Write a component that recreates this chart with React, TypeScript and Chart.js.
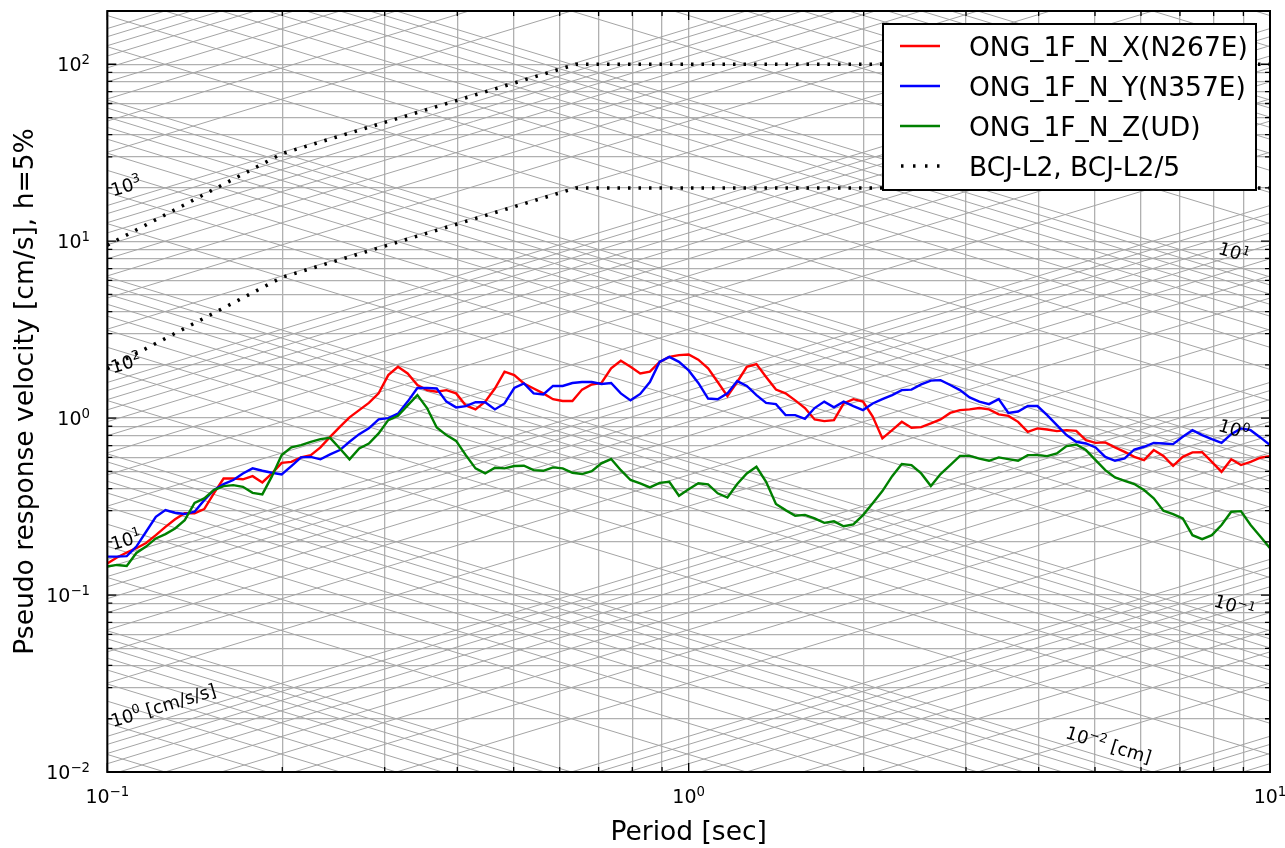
import React, { useEffect, useRef } from "react";
import { Chart, registerables } from "chart.js";

Chart.register(...registerables);

// natural period [sec]
const periods = [
  0.1, 0.1039, 0.108, 0.1122, 0.1166, 0.1212, 0.1259, 0.1308, 0.1359, 0.1413,
  0.1468, 0.1525, 0.1585, 0.1647, 0.1711, 0.1778, 0.1848, 0.192, 0.1995, 0.2073,
  0.2154, 0.2239, 0.2326, 0.2417, 0.2512, 0.261, 0.2712, 0.2818, 0.2929, 0.3043,
  0.3162, 0.3286, 0.3415, 0.3548, 0.3687, 0.3831, 0.3981, 0.4137, 0.4299, 0.4467,
  0.4642, 0.4823, 0.5012, 0.5208, 0.5412, 0.5623, 0.5843, 0.6072, 0.631, 0.6556,
  0.6813, 0.7079, 0.7356, 0.7644, 0.7943, 0.8254, 0.8577, 0.8913, 0.9261, 0.9624,
  1.0, 1.039, 1.08, 1.122, 1.166, 1.212, 1.259, 1.308, 1.359, 1.413,
  1.468, 1.525, 1.585, 1.647, 1.711, 1.778, 1.848, 1.92, 1.995, 2.073,
  2.154, 2.239, 2.326, 2.417, 2.512, 2.61, 2.712, 2.818, 2.929, 3.043,
  3.162, 3.286, 3.415, 3.548, 3.687, 3.831, 3.981, 4.137, 4.299, 4.467,
  4.642, 4.823, 5.012, 5.208, 5.412, 5.623, 5.843, 6.072, 6.31, 6.556,
  6.813, 7.079, 7.356, 7.644, 7.943, 8.254, 8.577, 8.913, 9.261, 9.624,
  10.0,
];

// pseudo response velocity [cm/s], h=5%
const psvX = [
  0.151, 0.163, 0.174, 0.184, 0.197, 0.218, 0.243, 0.268, 0.29, 0.29,
  0.306, 0.376, 0.456, 0.456, 0.451, 0.47, 0.433, 0.487, 0.559, 0.566,
  0.6, 0.618, 0.683, 0.784, 0.893, 1.01, 1.11, 1.22, 1.38, 1.75,
  1.95, 1.79, 1.54, 1.44, 1.41, 1.44, 1.38, 1.18, 1.12, 1.24,
  1.47, 1.83, 1.75, 1.57, 1.47, 1.38, 1.28, 1.25, 1.25, 1.45,
  1.55, 1.58, 1.91, 2.11, 1.95, 1.79, 1.83, 2.08, 2.22, 2.27,
  2.29, 2.14, 1.91, 1.6, 1.33, 1.6, 1.95, 2.02, 1.71, 1.45,
  1.38, 1.26, 1.14, 0.983, 0.962, 0.974, 1.21, 1.28, 1.24, 1.02,
  0.768, 0.855, 0.953, 0.882, 0.889, 0.933, 0.983, 1.07, 1.11, 1.12,
  1.14, 1.12, 1.05, 1.03, 0.953, 0.837, 0.875, 0.863, 0.845, 0.855,
  0.848, 0.751, 0.725, 0.729, 0.683, 0.645, 0.604, 0.579, 0.66, 0.612,
  0.538, 0.604, 0.64, 0.642, 0.566, 0.497, 0.585, 0.543, 0.566, 0.597,
  0.61,
];

const psvY = [
  0.165, 0.165, 0.166, 0.188, 0.228, 0.277, 0.302, 0.292, 0.287, 0.296,
  0.344, 0.392, 0.424, 0.447, 0.487, 0.52, 0.504, 0.491, 0.481, 0.536,
  0.6, 0.604, 0.585, 0.624, 0.66, 0.735, 0.812, 0.875, 0.985, 1.0,
  1.06, 1.24, 1.48, 1.48, 1.47, 1.24, 1.15, 1.17, 1.23, 1.23,
  1.12, 1.21, 1.48, 1.57, 1.38, 1.36, 1.52, 1.52, 1.58, 1.6,
  1.6, 1.56, 1.58, 1.38, 1.26, 1.37, 1.6, 2.08, 2.22, 2.08,
  1.86, 1.58, 1.29, 1.28, 1.38, 1.62, 1.52, 1.35, 1.22, 1.2,
  1.04, 1.04, 0.991, 1.14, 1.24, 1.15, 1.24, 1.17, 1.11, 1.21,
  1.28, 1.35, 1.44, 1.45, 1.55, 1.63, 1.64, 1.54, 1.44, 1.31,
  1.24, 1.2, 1.28, 1.07, 1.09, 1.17, 1.17, 1.04, 0.913, 0.802,
  0.735, 0.719, 0.683, 0.604, 0.574, 0.592, 0.665, 0.689, 0.725, 0.719,
  0.713, 0.784, 0.855, 0.802, 0.761, 0.725, 0.812, 0.875, 0.855, 0.778,
  0.704,
];

const psvZ = [
  0.145, 0.148, 0.146, 0.173, 0.188, 0.209, 0.221, 0.238, 0.265, 0.332,
  0.352, 0.392, 0.413, 0.418, 0.409, 0.378, 0.371, 0.47, 0.618, 0.683,
  0.704, 0.735, 0.761, 0.774, 0.674, 0.585, 0.674, 0.719, 0.82, 0.974,
  1.03, 1.18, 1.35, 1.14, 0.886, 0.802, 0.744, 0.618, 0.52, 0.487,
  0.524, 0.52, 0.536, 0.538, 0.508, 0.504, 0.527, 0.52, 0.491, 0.483,
  0.502, 0.555, 0.587, 0.508, 0.447, 0.428, 0.406, 0.431, 0.437, 0.364,
  0.396, 0.428, 0.422, 0.376, 0.356, 0.424, 0.487, 0.531, 0.437, 0.327,
  0.302, 0.281, 0.284, 0.271, 0.256, 0.261, 0.245, 0.251, 0.283, 0.33,
  0.387, 0.47, 0.55, 0.543, 0.487, 0.413, 0.483, 0.543, 0.612, 0.612,
  0.59, 0.574, 0.6, 0.587, 0.574, 0.618, 0.618, 0.61, 0.632, 0.695,
  0.71, 0.66, 0.579, 0.508, 0.462, 0.442, 0.424, 0.392, 0.352, 0.3,
  0.287, 0.271, 0.218, 0.207, 0.218, 0.249, 0.296, 0.298, 0.249, 0.214,
  0.184,
];

// design spectra (BCJ-L2 and BCJ-L2/5)
const bcjPeriods = [0.1, 0.2, 0.64, 10];
const bcjL2 = [9.5, 31.3, 100, 100];
const bcjL2Div5 = [1.9, 6.26, 20, 20];

const seriesLabels = ["ONG_1F_N_X(N267E)", "ONG_1F_N_Y(N357E)", "ONG_1F_N_Z(UD)", "BCJ-L2, BCJ-L2/5"];
const seriesColors = ["#ff0000", "#0000ff", "#008000", "#000000"];

// axis decades and the tripartite labels
const xDecades = [-1, 0, 1];
const yDecades = [-2, -1, 0, 1, 2];
const accelLabels = [
  { value: 1, exp: "0", tail: " [cm/s/s]" },
  { value: 10, exp: "1", tail: "" },
  { value: 100, exp: "2", tail: "" },
  { value: 1000, exp: "3", tail: "" },
];
const dispLabels = [
  { value: 10, exp: "1", tail: "", period: 9.05 },
  { value: 1, exp: "0", tail: "", period: 9.05 },
  { value: 0.1, exp: "−1", tail: "", period: 9.25 },
  { value: 0.01, exp: "−2", tail: " [cm]", period: 6.15 },
];

const FONT = '"DejaVu Sans", sans-serif';
const TWO_PI = 2 * Math.PI;

const gridValues = (lo: number, hi: number, top: number) => {
  const out: number[] = [];
  for (let e = lo; e <= hi; e++) {
    for (let m = 1; m <= 9; m++) {
      const v = m * Math.pow(10, e);
      if (v <= top * 1.0001) out.push(v);
    }
  }
  return out;
};

const isDecade = (v: number) => Math.abs(Math.log10(v) - Math.round(Math.log10(v))) < 1e-6;

const drawPower = (
  ctx: CanvasRenderingContext2D,
  x: number,
  y: number,
  exp: string,
  size: number,
  align: "left" | "right" | "center",
  tail = ""
) => {
  const supSize = size * 0.7;
  ctx.textAlign = "left";
  ctx.textBaseline = "alphabetic";
  ctx.font = `${size}px ${FONT}`;
  const wBase = ctx.measureText("10").width;
  const wTail = tail ? ctx.measureText(tail).width : 0;
  ctx.font = `${supSize}px ${FONT}`;
  const wSup = ctx.measureText(exp).width;
  const total = wBase + wSup + wTail;
  const x0 = align === "left" ? x : align === "right" ? x - total : x - total / 2;
  ctx.font = `${size}px ${FONT}`;
  ctx.fillText("10", x0, y);
  ctx.font = `${supSize}px ${FONT}`;
  ctx.fillText(exp, x0 + wBase, y - size * 0.38);
  if (tail) {
    ctx.font = `${size}px ${FONT}`;
    ctx.fillText(tail, x0 + wBase + wSup, y);
  }
};

const tripartitePlugin = {
  id: "tripartite",
  beforeDatasetsDraw(chart: any) {
    const { ctx, chartArea: a } = chart;
    const xs = chart.scales.x;
    const ys = chart.scales.y;
    ctx.save();
    ctx.beginPath();
    ctx.rect(a.left, a.top, a.right - a.left, a.bottom - a.top);
    ctx.clip();
    ctx.strokeStyle = "#a4a4a4";
    ctx.lineWidth = 1;
    const t0 = 0.1;
    const t1 = 10;
    // constant acceleration lines
    for (const acc of gridValues(-3, 4, 1e5)) {
      ctx.beginPath();
      ctx.moveTo(xs.getPixelForValue(t0), ys.getPixelForValue((acc * t0) / TWO_PI));
      ctx.lineTo(xs.getPixelForValue(t1), ys.getPixelForValue((acc * t1) / TWO_PI));
      ctx.stroke();
    }
    // constant displacement lines
    for (const disp of gridValues(-4, 2, 1e3)) {
      ctx.beginPath();
      ctx.moveTo(xs.getPixelForValue(t0), ys.getPixelForValue((disp * TWO_PI) / t0));
      ctx.lineTo(xs.getPixelForValue(t1), ys.getPixelForValue((disp * TWO_PI) / t1));
      ctx.stroke();
    }
    ctx.restore();
  },
  afterDraw(chart: any) {
    const { ctx, chartArea: a } = chart;
    const xs = chart.scales.x;
    const ys = chart.scales.y;
    ctx.save();
    ctx.fillStyle = "#000";

    // diagonal labels
    const angleOf = (p1: number[], p2: number[]) => Math.atan2(p2[1] - p1[1], p2[0] - p1[0]);
    for (const l of accelLabels) {
      const t = 0.1031;
      const p1 = [xs.getPixelForValue(0.1), ys.getPixelForValue((l.value * 0.1) / TWO_PI)];
      const p2 = [xs.getPixelForValue(10), ys.getPixelForValue((l.value * 10) / TWO_PI)];
      const px = xs.getPixelForValue(t);
      const py = ys.getPixelForValue((l.value * t) / TWO_PI);
      ctx.save();
      ctx.translate(px, py);
      ctx.rotate(angleOf(p1, p2));
      drawPower(ctx, 0, -7, l.exp, 18, "left", l.tail);
      ctx.restore();
    }
    for (const l of dispLabels) {
      const t = l.period;
      const p1 = [xs.getPixelForValue(0.1), ys.getPixelForValue((l.value * TWO_PI) / 0.1)];
      const p2 = [xs.getPixelForValue(10), ys.getPixelForValue((l.value * TWO_PI) / 10)];
      const px = xs.getPixelForValue(t);
      const py = ys.getPixelForValue((l.value * TWO_PI) / t);
      ctx.save();
      ctx.translate(px, py);
      ctx.rotate(angleOf(p1, p2));
      drawPower(ctx, 0, -7, l.exp, 18, "right", l.tail);
      ctx.restore();
    }

    // frame and inward ticks
    ctx.strokeStyle = "#000";
    ctx.lineWidth = 2;
    ctx.strokeRect(a.left, a.top, a.right - a.left, a.bottom - a.top);
    ctx.lineWidth = 1.3;
    for (const v of gridValues(-1, 1, 10)) {
      const x = xs.getPixelForValue(v);
      const len = isDecade(v) ? 9 : 5;
      ctx.beginPath();
      ctx.moveTo(x, a.bottom);
      ctx.lineTo(x, a.bottom - len);
      ctx.moveTo(x, a.top);
      ctx.lineTo(x, a.top + len);
      ctx.stroke();
    }
    for (const v of gridValues(-2, 2, 200)) {
      const y = ys.getPixelForValue(v);
      const len = isDecade(v) ? 9 : 5;
      ctx.beginPath();
      ctx.moveTo(a.left, y);
      ctx.lineTo(a.left + len, y);
      ctx.moveTo(a.right, y);
      ctx.lineTo(a.right - len, y);
      ctx.stroke();
    }

    // tick labels
    for (const e of xDecades) {
      const x = xs.getPixelForValue(Math.pow(10, e));
      drawPower(ctx, x, 803, e < 0 ? "−" + -e : String(e), 19, "center");
    }
    for (const e of yDecades) {
      const y = ys.getPixelForValue(Math.pow(10, e));
      drawPower(ctx, 90, y + 7, e < 0 ? "−" + -e : String(e), 19, "right");
    }

    // axis titles
    ctx.font = `26.5px ${FONT}`;
    ctx.textAlign = "center";
    ctx.textBaseline = "alphabetic";
    ctx.fillText("Period [sec]", (a.left + a.right) / 2, 840);
    ctx.save();
    ctx.translate(33, (a.top + a.bottom) / 2);
    ctx.rotate(-Math.PI / 2);
    ctx.fillText("Pseudo response velocity [cm/s], h=5%", 0, 0);
    ctx.restore();

    // legend
    const lx = 883;
    const ly = 24;
    ctx.fillStyle = "#fff";
    ctx.fillRect(lx, ly, 373, 166);
    ctx.strokeStyle = "#000";
    ctx.lineWidth = 2;
    ctx.strokeRect(lx, ly, 373, 166);
    seriesLabels.forEach((label, i) => {
      const cy = 46 + i * 40;
      ctx.strokeStyle = seriesColors[i];
      if (i === 3) {
        ctx.lineWidth = 3.5;
        ctx.setLineDash([2.5, 9.5]);
      } else {
        ctx.lineWidth = 2.3;
        ctx.setLineDash([]);
      }
      ctx.beginPath();
      ctx.moveTo(i === 3 ? 901 : 900, cy);
      ctx.lineTo(940, cy);
      ctx.stroke();
      ctx.setLineDash([]);
      ctx.fillStyle = "#000";
      ctx.font = `26.5px ${FONT}`;
      ctx.textAlign = "left";
      ctx.fillText(label, 969, cy + 9.5);
    });
    ctx.restore();
  },
};

const App: React.FC = () => {
  const chartRef = useRef<HTMLCanvasElement | null>(null);
  const chartInstance = useRef<Chart | null>(null);

  useEffect(() => {
    document.body.style.margin = "0";
    if (!chartRef.current) return;
    if (chartInstance.current !== null) {
      chartInstance.current.destroy();
    }
    const ctx = chartRef.current.getContext("2d");
    if (!ctx) return;

    const pairs = (xs: number[], ys: number[]) => xs.map((x, i) => ({ x, y: ys[i] }));
    const lineStyle = { pointRadius: 0, borderWidth: 2.4, tension: 0, fill: false };
    const bcjStyle = {
      pointRadius: 0,
      borderWidth: 3.5,
      borderColor: "#000",
      borderDash: [2.5, 8],
      borderCapStyle: "butt" as const,
      tension: 0,
      fill: false,
      order: 1,
    };

    chartInstance.current = new Chart(ctx, {
      type: "line",
      data: {
        datasets: [
          { label: seriesLabels[0], data: pairs(periods, psvX), borderColor: seriesColors[0], order: 4, ...lineStyle },
          { label: seriesLabels[1], data: pairs(periods, psvY), borderColor: seriesColors[1], order: 3, ...lineStyle },
          { label: seriesLabels[2], data: pairs(periods, psvZ), borderColor: seriesColors[2], order: 2, ...lineStyle },
          { label: seriesLabels[3], data: pairs(bcjPeriods, bcjL2), ...bcjStyle },
          { label: "BCJ-L2/5", data: pairs(bcjPeriods, bcjL2Div5), ...bcjStyle },
        ],
      },
      options: {
        animation: false,
        responsive: false,
        devicePixelRatio: 1,
        events: [],
        layout: { padding: { left: 0, top: 11, right: 15, bottom: 0 } },
        plugins: {
          legend: { display: false },
          tooltip: { enabled: false },
          title: { display: false },
        },
        scales: {
          x: {
            type: "logarithmic",
            min: 0.1,
            max: 10,
            afterBuildTicks: (scale: any) => {
              scale.ticks = gridValues(-1, 1, 10).map((v) => ({ value: v }));
            },
            afterFit: (scale: any) => {
              scale.height = 76;
            },
            ticks: { display: false },
            grid: { color: "#b0b0b0", lineWidth: 1.3, drawTicks: false },
            border: { display: false },
          },
          y: {
            type: "logarithmic",
            min: 0.01,
            max: 200,
            afterBuildTicks: (scale: any) => {
              scale.ticks = gridValues(-2, 2, 200).map((v) => ({ value: v }));
            },
            afterFit: (scale: any) => {
              scale.width = 107.3;
            },
            ticks: { display: false },
            grid: { color: "#b0b0b0", lineWidth: 1.3, drawTicks: false },
            border: { display: false },
          },
        },
      },
      plugins: [tripartitePlugin],
    });

    return () => {
      if (chartInstance.current !== null) {
        chartInstance.current.destroy();
        chartInstance.current = null;
      }
    };
  }, []);

  return (
    <div style={{ width: 1285, height: 848, background: "#fff" }}>
      <canvas ref={chartRef} width={1285} height={848}></canvas>
    </div>
  );
};

export default App;
